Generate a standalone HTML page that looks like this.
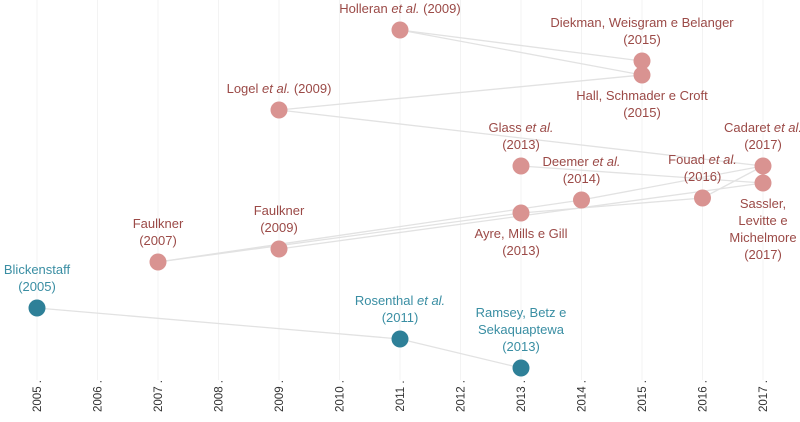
<!DOCTYPE html>
<html><head><meta charset="utf-8"><style>
body{margin:0;background:#fff;}
svg{display:block;font-family:"Liberation Sans",sans-serif;}
.lp{fill:#9b4a47;font-size:13px;text-anchor:middle;}
.lt{fill:#3a8ea3;font-size:13px;text-anchor:middle;}
</style></head><body>
<svg id="chart" width="800" height="422" viewBox="0 0 800 422"></svg>
<script>
const years=[2005,2006,2007,2008,2009,2010,2011,2012,2013,2014,2015,2016,2017];
const names=["Holleran","Diekman","Hall","Logel","Glass","Deemer","Fouad","Cadaret","Sassler","Ayre","Faulkner07","Faulkner09","Blickenstaff","Rosenthal","Ramsey"];
const pubYears=[2011,2015,2015,2009,2013,2014,2016,2017,2017,2013,2007,2009,2005,2011,2013];
const rowValues=[30,61,75,110,166,200,198,166,183,213,262,249,308,339,368];
const groups=["p","p","p","p","p","p","p","p","p","p","p","p","t","t","t"];
const labels=[["Holleran |et al.| (2009)"],["Diekman, Weisgram e Belanger","(2015)"],["Hall, Schmader e Croft","(2015)"],["Logel |et al.| (2009)"],["Glass |et al.|","(2013)"],["Deemer |et al.|","(2014)"],["Fouad |et al.|","(2016)"],["Cadaret |et al.|","(2017)"],["Sassler,","Levitte e","Michelmore","(2017)"],["Ayre, Mills e Gill","(2013)"],["Faulkner","(2007)"],["Faulkner","(2009)"],["Blickenstaff","(2005)"],["Rosenthal |et al.|","(2011)"],["Ramsey, Betz e","Sekaquaptewa","(2013)"]];
const labelPos=["above","above","below","above","above","above","above","above","below","below","above","above","above","above","above"];
const links=[[0,1],[0,2],[3,2],[3,7],[4,8],[5,7],[9,6],[6,7],[10,9],[10,5],[11,8],[12,13],[13,14]];
const x=y=>37+(y-2005)*60.5;
const yv=v=>v;
const svg=document.getElementById('chart');
const NS="http://www.w3.org/2000/svg";
function mk(t,a){const e=document.createElementNS(NS,t);for(const k in a)e.setAttribute(k,a[k]);svg.appendChild(e);return e;}
years.forEach(yr=>{
 const g=mk('line',{x1:x(yr),x2:x(yr),y1:0,y2:380,stroke:'#f3f3f3','stroke-width':1});
 
 
 const t=mk('text',{x:0,y:0,transform:`translate(${x(yr)+4},396) rotate(-90)`,'text-anchor':'middle','font-size':'11.5px',fill:'#333'});
 t.textContent=yr+' .';
 
 
});
links.forEach(([a,b])=>{
 const l=mk('line',{x1:x(pubYears[a]),y1:yv(rowValues[a]),x2:x(pubYears[b]),y2:yv(rowValues[b]),stroke:'#e2e2e2','stroke-width':1.3});
 
 
});
names.forEach((n,i)=>{
 const cx=x(pubYears[i]),cy=yv(rowValues[i]);
 const c=mk('circle',{cx:cx,cy:cy,r:8.5,fill:groups[i]=='p'?'#d99391':'#2e8098'});
 
 
 const L=labels[i],lh=17;
 let y0=labelPos[i]=='above'?cy-17-(L.length-1)*lh:cy+25;
 L.forEach((line,k)=>{
  const t=mk('text',{x:cx,y:y0+k*lh,class:groups[i]=='p'?'lp':'lt'});
  line.split('|').forEach((part,j)=>{const s=document.createElementNS(NS,'tspan');if(j==1)s.setAttribute('font-style','italic');s.textContent=part;t.appendChild(s);});
  
  
 });
});
</script>
</body></html>
